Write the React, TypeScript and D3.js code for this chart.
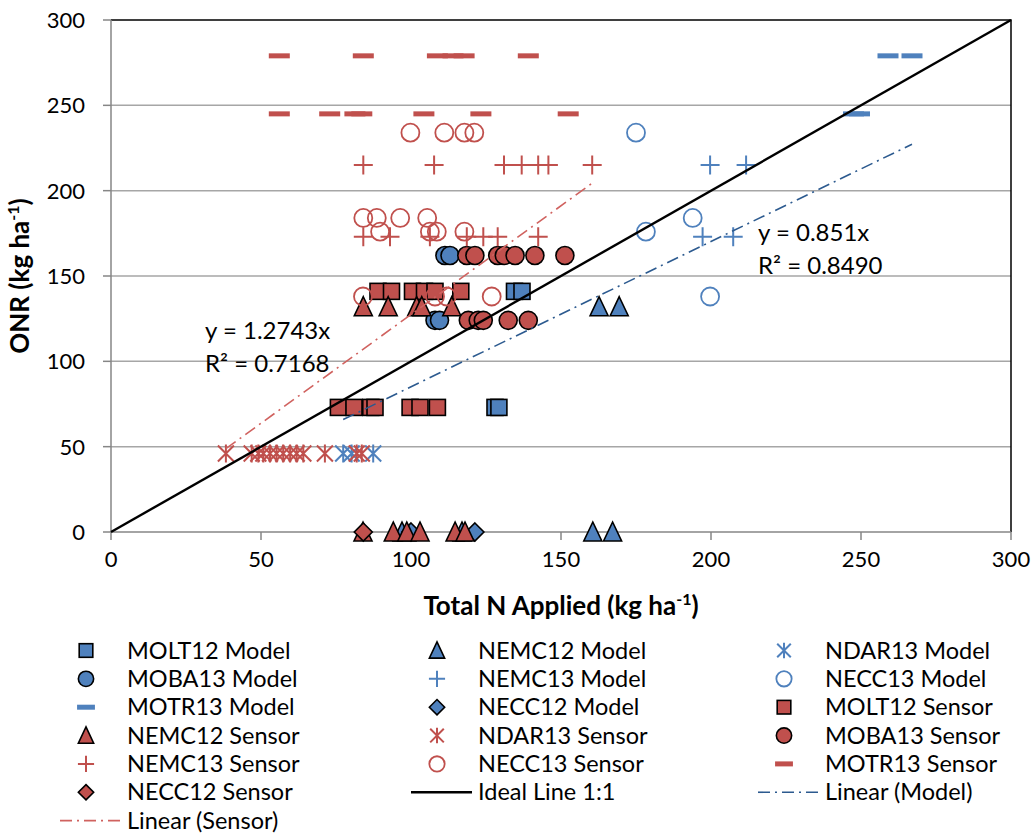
import React, { useEffect, useRef } from "react";
import * as d3 from "d3";

// ---------------- data (x = Total N applied, y = ONR), kg ha-1
const molt12Model = [[134.5, 141], [137, 141], [128, 73], [129.3, 73]];
const nemc12Model = [[162.7, 132], [169.4, 132], [160.6, 0], [167.2, 0], [97, 0], [117, 0]];
const ndar13Model = [[77.4, 46], [80.2, 46], [87.4, 46]];
const moba13Model = [[108, 124], [109.5, 124], [111.3, 162], [113, 162]];
const nemc13Model = [[199.7, 215], [211.7, 215], [197.2, 173], [207.4, 173]];
const necc13Model = [[175, 234], [193.9, 184], [178.3, 176], [199.7, 138]];
const motr13Model = [[259, 279], [267, 279], [247.5, 245], [249.5, 245]];
const necc12Model = [[100, 0], [121.3, 0]];

const molt12Sensor = [
  [89, 141], [93.5, 141], [100.5, 141], [104.5, 141], [108, 141], [116.6, 141],
  [75.8, 73], [81, 73], [86.6, 73], [88, 73], [99.7, 73], [103, 73], [108.8, 73]
];
const nemc12Sensor = [
  [84.1, 132], [92.4, 132], [101.9, 132], [103.6, 132], [113.6, 132],
  [84, 0], [94.1, 0], [98.6, 0], [103, 0], [114.7, 0], [118, 0]
];
const ndar13Sensor = [
  [38.3, 46], [46.9, 46], [49.1, 46], [50.8, 46], [53, 46], [55.2, 46], [57.4, 46],
  [59.7, 46], [61.9, 46], [64.1, 46], [71.3, 46], [81.9, 46], [83.6, 46]
];
const moba13Sensor = [
  [118.6, 162], [121.3, 162], [128.9, 162], [131.1, 162], [134.7, 162], [141.3, 162], [151.3, 162],
  [119.1, 124], [122.4, 124], [124.1, 124], [132.4, 124], [139.1, 124]
];
const nemc13Sensor = [
  [84.1, 215], [107.7, 215], [131, 215], [136.9, 215], [142.4, 215], [145.8, 215], [160.4, 215],
  [84.1, 173], [93, 173], [106.3, 173], [118.6, 173], [124.1, 173], [128.9, 173], [142.4, 173]
];
const necc13Sensor = [
  [99.8, 234], [111.1, 234], [117.8, 234], [121.1, 234],
  [84.1, 184], [88.6, 184], [96.4, 184], [105.4, 184],
  [89.7, 176], [106.3, 176], [108.6, 176], [117.8, 176],
  [84, 138], [108, 138], [111.9, 138], [126.9, 138]
];
const motr13Sensor = [
  [56.1, 279], [84.1, 279], [108.8, 279], [114, 279], [117.7, 279], [139.1, 279],
  [56.1, 245], [72.9, 245], [81.3, 245], [83.6, 245], [104.3, 245], [123.3, 245], [152.4, 245]
];
const necc12Sensor = [[84.1, 0]];

const modelSlope = 0.851;
const sensorSlope = 1.2743;
const modelR2 = "0.8490";
const sensorR2 = "0.7168";
const ticks = [0, 50, 100, 150, 200, 250, 300];

const BLUE = "#4F81BD";
const RED = "#C0504D";
const FONT = "Lato, 'Open Sans', sans-serif";

const series = [
  { name: "MOLT12 Model", data: molt12Model, shape: "square", color: BLUE },
  { name: "NEMC12 Model", data: nemc12Model, shape: "triangle", color: BLUE },
  { name: "NDAR13 Model", data: ndar13Model, shape: "star", color: BLUE },
  { name: "MOBA13 Model", data: moba13Model, shape: "circle", color: BLUE },
  { name: "NEMC13 Model", data: nemc13Model, shape: "plus", color: BLUE },
  { name: "NECC13 Model", data: necc13Model, shape: "ring", color: BLUE },
  { name: "MOTR13 Model", data: motr13Model, shape: "dash", color: BLUE },
  { name: "NECC12 Model", data: necc12Model, shape: "diamond", color: BLUE },
  { name: "MOLT12 Sensor", data: molt12Sensor, shape: "square", color: RED },
  { name: "NEMC12 Sensor", data: nemc12Sensor, shape: "triangle", color: RED },
  { name: "NDAR13 Sensor", data: ndar13Sensor, shape: "star", color: RED },
  { name: "MOBA13 Sensor", data: moba13Sensor, shape: "circle", color: RED },
  { name: "NEMC13 Sensor", data: nemc13Sensor, shape: "plus", color: RED },
  { name: "NECC13 Sensor", data: necc13Sensor, shape: "ring", color: RED },
  { name: "MOTR13 Sensor", data: motr13Sensor, shape: "dash", color: RED },
  { name: "NECC12 Sensor", data: necc12Sensor, shape: "diamond", color: RED }
];

// draws one marker centred at (0,0) into group g
const drawMarker = (g, shape, color, s = 1) => {
  if (shape === "square") {
    g.append("rect").attr("x", -8 * s).attr("y", -8 * s).attr("width", 16 * s).attr("height", 16 * s)
      .attr("fill", color).attr("stroke", "#000").attr("stroke-width", 1.6);
  } else if (shape === "circle") {
    g.append("circle").attr("r", 9 * s).attr("fill", color).attr("stroke", "#000").attr("stroke-width", 1.6);
  } else if (shape === "ring") {
    g.append("circle").attr("r", 9 * s).attr("fill", "none").attr("stroke", color).attr("stroke-width", 1.8);
  } else if (shape === "triangle") {
    const h = 9 * s;
    g.append("path").attr("d", `M0,${-h - 1}L${h},${h}L${-h},${h}Z`)
      .attr("fill", color).attr("stroke", "#000").attr("stroke-width", 1.6).attr("stroke-linejoin", "miter");
  } else if (shape === "diamond") {
    const h = 9 * s;
    g.append("path").attr("d", `M0,${-h}L${h},0L0,${h}L${-h},0Z`)
      .attr("fill", color).attr("stroke", "#000").attr("stroke-width", 1.6);
  } else if (shape === "plus") {
    const h = 9.5 * s;
    g.append("path").attr("d", `M${-h},0H${h}M0,${-h}V${h}`).attr("stroke", color).attr("stroke-width", 2);
  } else if (shape === "star") {
    const h = 8 * s;
    g.append("path").attr("d", `M${-h},${-h}L${h},${h}M${h},${-h}L${-h},${h}M0,${-h - 1}V${h + 1}`)
      .attr("stroke", color).attr("stroke-width", 2);
  } else if (shape === "dash") {
    g.append("rect").attr("x", -10.5 * s).attr("y", -2.5).attr("width", 21 * s).attr("height", 5).attr("fill", color);
  }
};

const Chart = () => {
  const svgRef = useRef(null);

  useEffect(() => {
    const width = 1034;
    const height = 834;
    const margin = { top: 20, right: 23, bottom: 302, left: 111 };
    const svg = d3.select(svgRef.current).attr("width", width).attr("height", height);
    svg.selectAll("*").remove();

    // ---------------------- scale
    const scale = {
      x: d3.scaleLinear().domain([0, 300]).range([margin.left, width - margin.right]),
      y: d3.scaleLinear().domain([0, 300]).range([height - margin.bottom, margin.top])
    };
    const [x0, x1] = scale.x.range();
    const [y0, y1] = scale.y.range();

    // ---------------------- grid + frame
    svg.append("g").selectAll("line").data(ticks.slice(1, -1)).join("line")
      .attr("x1", x0).attr("x2", x1).attr("y1", d => scale.y(d)).attr("y2", d => scale.y(d))
      .attr("stroke", "#A6A6A6").attr("stroke-width", 1.5);
    svg.append("path").attr("d", `M${x0},${y1}H${x1}V${y0}`).attr("fill", "none")
      .attr("stroke", "#000").attr("stroke-width", 1.5);

    // ---------------------- axes
    const axisColor = "#868686";
    svg.append("line").attr("x1", x0).attr("x2", x1).attr("y1", y0).attr("y2", y0)
      .attr("stroke", axisColor).attr("stroke-width", 1.5);
    svg.append("line").attr("x1", x0).attr("x2", x0).attr("y1", y0).attr("y2", y1)
      .attr("stroke", axisColor).attr("stroke-width", 1.5);
    const xt = svg.append("g").selectAll("g").data(ticks).join("g")
      .attr("transform", d => `translate(${scale.x(d)},${y0})`);
    xt.append("line").attr("y2", 8).attr("stroke", axisColor).attr("stroke-width", 1.5);
    xt.append("text").attr("y", 35).attr("text-anchor", "middle").text(d => d);
    const yt = svg.append("g").selectAll("g").data(ticks).join("g")
      .attr("transform", d => `translate(${x0},${scale.y(d)})`);
    yt.append("line").attr("x1", -8).attr("stroke", axisColor).attr("stroke-width", 1.5);
    yt.append("text").attr("x", -26).attr("dy", "0.36em").attr("text-anchor", "end").text(d => d);

    const xTitle = svg.append("text").attr("x", (x0 + x1) / 2).attr("y", 615)
      .attr("text-anchor", "middle").attr("font-weight", "bold").attr("font-size", 26);
    xTitle.append("tspan").text("Total N Applied (kg ha");
    xTitle.append("tspan").attr("font-size", 16).attr("dy", -10).text("-1");
    xTitle.append("tspan").attr("dy", 10).text(")");
    const yTitle = svg.append("text").attr("transform", `translate(29,${(y0 + y1) / 2}) rotate(-90)`)
      .attr("text-anchor", "middle").attr("font-weight", "bold").attr("font-size", 26);
    yTitle.append("tspan").text("ONR (kg ha");
    yTitle.append("tspan").attr("font-size", 16).attr("dy", -10).text("-1");
    yTitle.append("tspan").attr("dy", 10).text(")");

    // ---------------------- markers
    series.forEach(s => {
      svg.append("g").selectAll("g").data(s.data).join("g")
        .attr("transform", d => `translate(${scale.x(d[0])},${scale.y(d[1])})`)
        .each(function () { drawMarker(d3.select(this), s.shape, s.color); });
    });

    // ---------------------- ideal + trend lines
    const line = d3.line().x(d => scale.x(d[0])).y(d => scale.y(d[1]));
    svg.append("path").attr("d", line([[0, 0], [300, 300]])).attr("stroke", "#000").attr("stroke-width", 2.4);

    const modelX = d3.extent(series.filter(s => s.name.includes("Model")).flatMap(s => s.data), d => d[0]);
    const sensorX = d3.extent(series.filter(s => s.name.includes("Sensor")).flatMap(s => s.data), d => d[0]);
    svg.append("path").attr("d", line(modelX.map(x => [x, modelSlope * x])))
      .attr("stroke", "#2C5A8F").attr("stroke-width", 1.6).attr("stroke-dasharray", "12,5,2,5");
    svg.append("path").attr("d", line(sensorX.map(x => [x, sensorSlope * x])))
      .attr("stroke", "#D0625F").attr("stroke-width", 1.6).attr("stroke-dasharray", "12,5,2,5");

    const eq = (x, y, slope, r2) => {
      svg.append("text").attr("x", x).attr("y", y).attr("font-size", 24).text(`y = ${slope}x`);
      svg.append("text").attr("x", x).attr("y", y + 33).attr("font-size", 24).text(`R² = ${r2}`);
    };
    eq(205, 339, sensorSlope, sensorR2);
    eq(758, 241, modelSlope, modelR2);

    // ---------------------- legend
    const legendItems = [
      ...series.map(s => ({ name: s.name, shape: s.shape, color: s.color })),
      { name: "Ideal Line 1:1", line: "#000", dash: null, w: 2.4 },
      { name: "Linear (Model)", line: "#2C5A8F", dash: "12,5,2,5", w: 1.6 },
      { name: "Linear (Sensor)", line: "#D0625F", dash: "12,5,2,5", w: 1.6 }
    ];
    const colText = [127, 478, 825];
    const rowY = i => 650.5 + 28.35 * i;
    legendItems.forEach((d, i) => {
      const col = i % 3;
      const row = Math.floor(i / 3);
      const g = svg.append("g").attr("transform", `translate(${colText[col]},${rowY(row)})`);
      if (d.line) {
        g.append("line").attr("x1", -67).attr("x2", -6).attr("stroke", d.line).attr("stroke-width", d.w)
          .attr("stroke-dasharray", d.dash);
      } else {
        const m = g.append("g").attr("transform", "translate(-41,0)");
        drawMarker(m, d.shape, d.color, 0.85);
      }
      g.append("text").attr("x", 0).attr("dy", "0.34em").attr("font-size", 23.5).text(d.name);
    });
  }, []);

  return (
    <svg ref={svgRef} style={{ position: "absolute", left: 0, top: 0, fontFamily: FONT, fontSize: 22 }} />
  );
};

export default function App() {
  return <Chart />;
}
